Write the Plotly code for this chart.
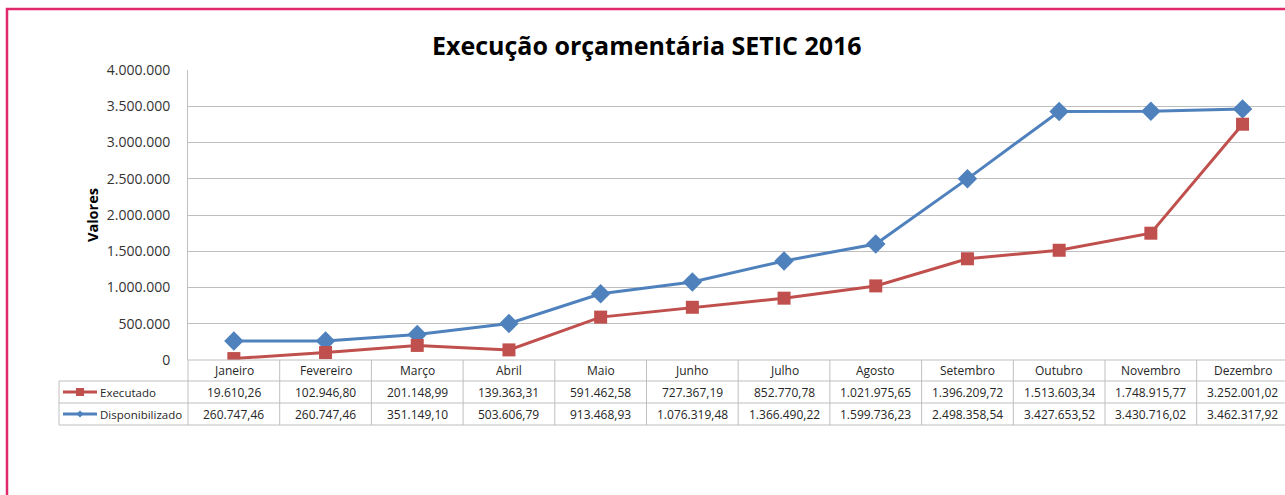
import plotly.graph_objects as go

months = ["Janeiro", "Fevereiro", "Março", "Abril", "Maio", "Junho", "Julho",
          "Agosto", "Setembro", "Outubro", "Novembro", "Dezembro"]
executado = [19610.26, 102946.80, 201148.99, 139363.31, 591462.58, 727367.19,
             852770.78, 1021975.65, 1396209.72, 1513603.34, 1748915.77, 3252001.02]
disponibilizado = [260747.46, 260747.46, 351149.10, 503606.79, 913468.93, 1076319.48,
                   1366490.22, 1599736.23, 2498358.54, 3427653.52, 3430716.02, 3462317.92]
series_names = ["Executado", "Disponibilizado"]
title_text = "Execução orçamentária SETIC 2016"
y_title = "Valores"

RED = "#C0504D"
BLUE = "#4F81BD"
GRID = "#BFBFBF"
TXT = "#262626"
FONT = "Open Sans"

# pixel geometry of plot area
W_FIG, H_FIG = 1285, 495
L, R, T, B = 188, 1285, 70, 360
PW, PH = R - L, B - T


def px(p):
    return (p - L) / PW


def py(p):
    return (B - p) / PH


def fmt_br(v):
    s = f"{v:,.2f}"
    return s.replace(",", "X").replace(".", ",").replace("X", ".")


fig = go.Figure()
fig.add_trace(go.Scatter(x=months, y=disponibilizado, name=series_names[1], mode="lines+markers",
                         line=dict(color=BLUE, width=3),
                         marker=dict(symbol="diamond", size=15, color=BLUE)))
fig.add_trace(go.Scatter(x=months, y=executado, name=series_names[0], mode="lines+markers",
                         line=dict(color=RED, width=3),
                         marker=dict(symbol="square", size=13, color=RED)))

shapes = []
annotations = []

# pink outer border
shapes.append(dict(type="rect", xref="paper", yref="paper", x0=px(7), x1=px(1400), y0=py(9), y1=py(700),
                   line=dict(color="#E0296A", width=2.5), layer="above"))

# table rows
row_y = [360, 381, 403, 425]
shapes.append(dict(type="line", xref="paper", yref="paper", x0=px(L), x1=px(1400), y0=py(row_y[0]), y1=py(row_y[0]),
                   line=dict(color=GRID, width=1)))
for yy in row_y[1:]:
    shapes.append(dict(type="line", xref="paper", yref="paper", x0=px(59), x1=px(1400), y0=py(yy), y1=py(yy),
                       line=dict(color=GRID, width=1)))
# vertical separators
shapes.append(dict(type="line", xref="paper", yref="paper", x0=px(L), x1=px(L), y0=py(360), y1=py(425),
                   line=dict(color=GRID, width=1)))
shapes.append(dict(type="line", xref="paper", yref="paper", x0=px(59), x1=px(59), y0=py(381), y1=py(425),
                   line=dict(color=GRID, width=1)))
for i in range(1, len(months) + 1):
    shapes.append(dict(type="line", xref="x", yref="paper", x0=i - 0.5, x1=i - 0.5, y0=py(360), y1=py(425),
                       line=dict(color=GRID, width=1)))

# table values
for i, m in enumerate(months):
    annotations.append(dict(x=i, y=py(370), xref="x", yref="paper", text=m, showarrow=False,
                            xanchor="center", yanchor="middle",
                            font=dict(family=FONT, size=12, color=TXT)))
    annotations.append(dict(x=i, y=py(392), xref="x", yref="paper", text=fmt_br(executado[i]), showarrow=False,
                            xanchor="center", yanchor="middle",
                            font=dict(family=FONT, size=12, color=TXT)))
    annotations.append(dict(x=i, y=py(414), xref="x", yref="paper", text=fmt_br(disponibilizado[i]), showarrow=False,
                            xanchor="center", yanchor="middle",
                            font=dict(family=FONT, size=12, color=TXT)))

# legend keys in the table
for name, color, yy, kind in [(series_names[0], RED, 392, "square"), (series_names[1], BLUE, 414, "diamond")]:
    shapes.append(dict(type="line", xref="paper", yref="paper", x0=px(63), x1=px(97), y0=py(yy), y1=py(yy),
                       line=dict(color=color, width=3)))
    if kind == "square":
        shapes.append(dict(type="rect", xref="paper", yref="paper", x0=px(76), x1=px(84), y0=py(yy + 4), y1=py(yy - 4),
                           fillcolor=color, line=dict(width=0)))
    else:
        x0, y0 = 80, yy
        path = f"M {px(x0-3.5)} {py(y0)} L {px(x0)} {py(y0-3.5)} L {px(x0+3.5)} {py(y0)} L {px(x0)} {py(y0+3.5)} Z"
        shapes.append(dict(type="path", xref="paper", yref="paper", path=path, fillcolor=color, line=dict(width=0)))
    annotations.append(dict(x=px(98), y=py(yy), xref="paper", yref="paper", text=name, showarrow=False,
                            xanchor="left", yanchor="middle", font=dict(family=FONT, size=11.5, color=TXT)))

# title and axis title
annotations.append(dict(x=px(647), y=py(45), xref="paper", yref="paper", text=f"<b>{title_text}</b>",
                        showarrow=False, xanchor="center", yanchor="middle",
                        font=dict(family=FONT, size=25, color="#000000")))
annotations.append(dict(x=px(92), y=py(215), xref="paper", yref="paper", text=f"<b>{y_title}</b>",
                        showarrow=False, textangle=-90, xanchor="center", yanchor="middle",
                        font=dict(family=FONT, size=14.5, color="#000000")))

fig.update_layout(
    width=W_FIG, height=H_FIG,
    margin=dict(l=L, r=W_FIG - R, t=T, b=H_FIG - B, pad=0),
    paper_bgcolor="white", plot_bgcolor="white",
    showlegend=False,
    separators=",.",
    template="none",
    shapes=shapes,
    annotations=annotations,
    xaxis=dict(type="category", range=[-0.5, -0.5 + PW / 91.7], showticklabels=False, showgrid=False,
               zeroline=False, showline=False, automargin=False, fixedrange=True),
    yaxis=dict(range=[0, 4000000], dtick=500000, tickformat=",d", showgrid=True, gridcolor=GRID, gridwidth=1,
               zeroline=False, showline=True, linecolor=GRID, linewidth=1, ticks="",
               ticklabelstandoff=14, automargin=False,
               tickfont=dict(family=FONT, size=14, color="#333333")),
    font=dict(family=FONT),
)

fig.write_html("out.html",
               config={"displayModeBar": False},
               post_script="document.body.style.margin='0px';document.body.style.overflow='hidden';")
